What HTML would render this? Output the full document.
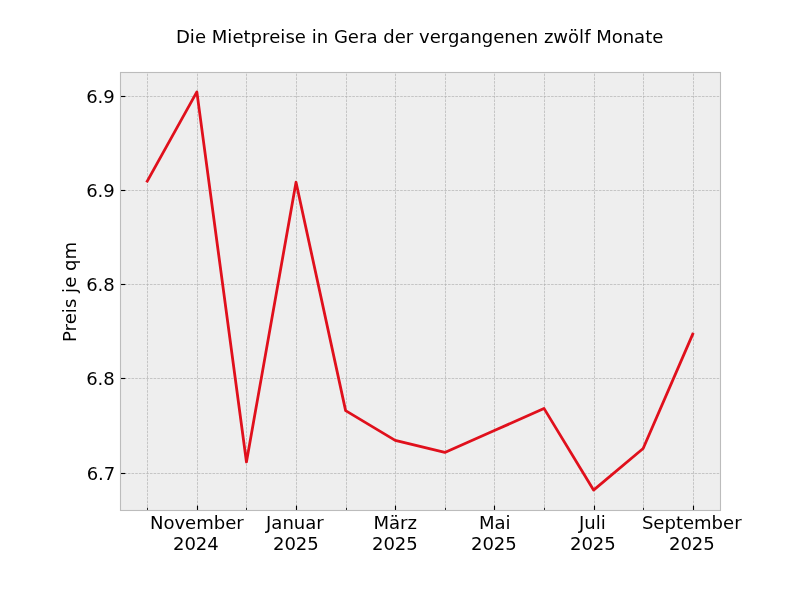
<!DOCTYPE html>
<html lang="de"><head><meta charset="utf-8"><title>Die Mietpreise in Gera der vergangenen zwölf Monate</title>
<style>html,body{margin:0;padding:0;background:#fff;overflow:hidden}svg{display:block}text{font-family:"DejaVu Sans","Liberation Sans",sans-serif;font-size:18.0556px;fill:#000}</style></head>
<body>
<svg width="800" height="600" viewBox="0 0 800 600">
<rect x="0" y="0" width="800" height="600" fill="#ffffff"/>
<rect x="120" y="72" width="600" height="438" fill="#eeeeee"/>
<g stroke="#b2b2b2" stroke-width="0.694" stroke-dasharray="2.569 1.111" fill="none">
<path d="M147.5 510.5V72.5"/>
<path d="M197.5 510.5V72.5"/>
<path d="M246.5 510.5V72.5"/>
<path d="M296.5 510.5V72.5"/>
<path d="M346.5 510.5V72.5"/>
<path d="M395.5 510.5V72.5"/>
<path d="M445.5 510.5V72.5"/>
<path d="M494.5 510.5V72.5"/>
<path d="M544.5 510.5V72.5"/>
<path d="M594.5 510.5V72.5"/>
<path d="M643.5 510.5V72.5"/>
<path d="M693.5 510.5V72.5"/>
<path d="M120.5 96.5H720.5"/>
<path d="M120.5 190.5H720.5"/>
<path d="M120.5 284.5H720.5"/>
<path d="M120.5 378.5H720.5"/>
<path d="M120.5 473.5H720.5"/>
</g>
<polyline points="147.27,181.10 196.86,91.91 246.45,461.95 296.03,182.25 345.62,410.60 395.21,440.40 444.79,452.40 494.38,430.60 543.97,408.40 593.55,490.09 643.14,448.50 692.73,334.20" fill="none" stroke="#e0101c" stroke-width="2.778" stroke-linejoin="round" stroke-linecap="square"/>
<g stroke="#000" fill="none">
<path d="M147.5 510.5v-2.78" stroke-width="0.833"/>
<path d="M197.5 510.5v-4.86" stroke-width="1.111"/>
<path d="M246.5 510.5v-2.78" stroke-width="0.833"/>
<path d="M296.5 510.5v-4.86" stroke-width="1.111"/>
<path d="M346.5 510.5v-2.78" stroke-width="0.833"/>
<path d="M395.5 510.5v-4.86" stroke-width="1.111"/>
<path d="M445.5 510.5v-2.78" stroke-width="0.833"/>
<path d="M494.5 510.5v-4.86" stroke-width="1.111"/>
<path d="M544.5 510.5v-2.78" stroke-width="0.833"/>
<path d="M594.5 510.5v-4.86" stroke-width="1.111"/>
<path d="M643.5 510.5v-2.78" stroke-width="0.833"/>
<path d="M693.5 510.5v-4.86" stroke-width="1.111"/>
<path d="M120.5 96.5h4.86" stroke-width="1.111"/>
<path d="M120.5 190.5h4.86" stroke-width="1.111"/>
<path d="M120.5 284.5h4.86" stroke-width="1.111"/>
<path d="M120.5 378.5h4.86" stroke-width="1.111"/>
<path d="M120.5 473.5h4.86" stroke-width="1.111"/>
</g>
<rect x="120.5" y="72.5" width="600" height="438" fill="none" stroke="#bcbcbc" stroke-width="1.111"/>
<text x="175.938 189.812 194.938 206.062 211.812 227.312 232.438 243.562 250.562 262.062 269.188 280.312 285.438 294.812 305.938 311.688 316.812 328.188 333.938 347.812 358.938 366.438 377.562 383.312 394.688 405.812 413.312 419.062 429.688 440.812 447.938 459.312 470.438 481.812 493.188 504.312 515.688 526.812 538.188 543.938 553.312 568.062 579.062 584.188 590.438 596.188 611.688 622.688 634.062 645.188 652.188" y="43.00">Die Mietpreise in Gera der vergangenen zwölf Monate</text>
<text transform="translate(76.20 291.00) rotate(-90)" x="-50.938 -40.438 -33.312 -22.188 -17.062 -7.688 -1.938 3.188 14.312 20.062 31.438" y="0">Preis je qm</text>
<text x="86.14 97.515 103.265" y="103.00">6.9</text>
<text x="86.14 97.515 103.265" y="197.00">6.9</text>
<text x="86.14 97.515 103.265" y="291.00">6.8</text>
<text x="86.14 97.515 103.265" y="385.00">6.8</text>
<text x="86.64 98.015 103.765" y="480.00">6.7</text>
<text x="149.922 163.422 174.422 185.047 196.172 213.672 225.172 236.297" y="529.00">November</text>
<text x="173.109 184.609 195.859 207.359" y="550.00">2024</text>
<text x="266.033 271.283 282.408 293.783 305.158 316.283" y="529.00">Januar</text>
<text x="273.033 284.533 295.783 307.283" y="550.00">2025</text>
<text x="373.457 388.957 400.082 407.582" y="529.00">März</text>
<text x="372.082 383.582 394.832 406.332" y="550.00">2025</text>
<text x="478.88 494.38 505.505" y="529.00">Mai</text>
<text x="471.005 482.505 493.755 505.255" y="550.00">2025</text>
<text x="579.116 584.366 595.741 600.866" y="529.00">Juli</text>
<text x="570.054 581.554 592.804 604.304" y="550.00">2025</text>
<text x="641.977 653.352 664.477 675.977 682.977 694.102 711.602 723.102 734.227" y="529.00">September</text>
<text x="669.102 680.602 691.852 703.352" y="550.00">2025</text>
</svg>
</body></html>
